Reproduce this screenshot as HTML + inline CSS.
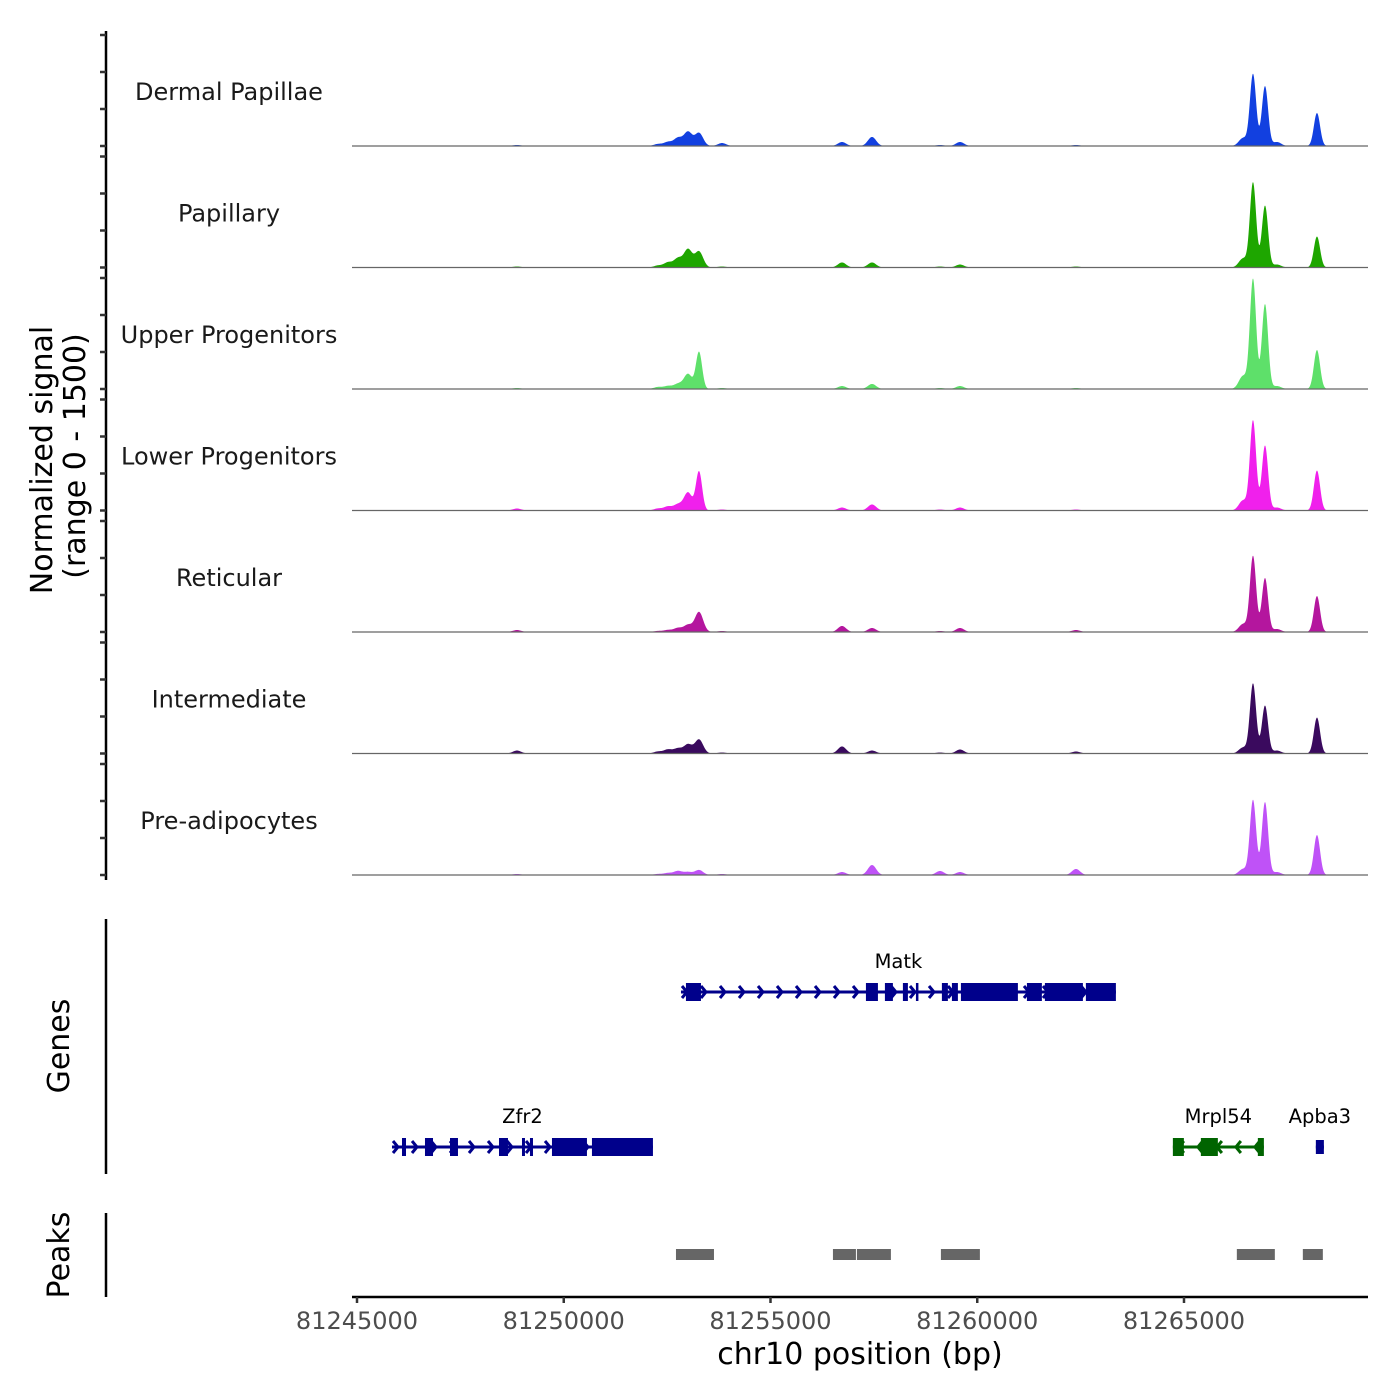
<!DOCTYPE html>
<html><head><meta charset="utf-8"><style>
body{margin:0;background:#fff;}
svg{display:block;font-family:"DejaVu Sans","Liberation Sans",sans-serif;}
</style></head><body>
<svg id="chart" width="1400" height="1400" viewBox="0 0 1400 1400" xmlns="http://www.w3.org/2000/svg">
<g id="tracks"></g>
<g id="genes"></g>
<g id="peaks"></g>
<g id="axes"></g>
<text transform="translate(52,460) rotate(-90)" text-anchor="middle" font-size="30" fill="#000">Normalized signal</text>
<text transform="translate(85,456) rotate(-90)" text-anchor="middle" font-size="30" fill="#000">(range 0 - 1500)</text>
<text transform="translate(69,1046) rotate(-90)" text-anchor="middle" font-size="30" fill="#000">Genes</text>
<text transform="translate(69,1255) rotate(-90)" text-anchor="middle" font-size="30" fill="#000">Peaks</text>
<text x="860" y="1364" text-anchor="middle" font-size="30" fill="#000">chr10 position (bp)</text>
</svg>
<script>
const NS="http://www.w3.org/2000/svg";
const trackNames=["Dermal Papillae","Papillary","Upper Progenitors","Lower Progenitors","Reticular","Intermediate","Pre-adipocytes"];
const trackColors=["#1240e0","#1ea600","#5ee06a","#f020ec","#b4169e","#3a0a5e","#bf52f7"];
const peakPositions=[81248869,81252279,81252521,81252763,81253005,81253271,81253828,81256729,81257455,81259099,81259583,81262388,81266427,81266669,81266959,81267249,81268216];
const sigDermal=[14,27,54,108,189,176,40,54,122,14,54,14,108,972,810,54,446];
const sigPapillary=[14,27,68,122,243,216,14,68,68,14,40,14,122,1148,837,40,419];
const sigUpper=[14,27,40,68,203,500,14,40,68,14,40,14,176,1485,1148,40,527];
const sigLower=[27,27,54,81,243,527,14,40,81,14,40,14,135,1215,878,40,540];
const sigReticular=[27,14,27,54,95,270,14,81,54,14,54,27,108,1026,729,40,486];
const sigIntermediate=[40,27,54,68,122,189,14,95,40,14,54,27,81,945,648,40,486];
const sigPreadipo=[14,14,27,54,40,68,14,40,135,54,40,81,81,1013,986,40,540];
const allSignals=[sigDermal,sigPapillary,sigUpper,sigLower,sigReticular,sigIntermediate,sigPreadipo];
const xTicks=[81245000,81250000,81255000,81260000,81265000];
const geneNames=["Matk","Zfr2","Mrpl54","Apba3"];
const geneStarts=[81252835,81245846,81264731,81268189];
const geneEnds=[81263354,81252157,81266932,81268383];
const geneStrands=["+","+","-","+"];
const geneRows=[0,1,1,1];
const geneExons=[
 [[81252955,81253318],[81257308,81257598],[81257767,81257960],[81258202,81258323],[81258517,81258565],[81259145,81259290],[81259387,81259532],[81259605,81260983],[81261201,81261563],[81261636,81262555],[81262627,81263353]],
 [[81246088,81246185],[81246644,81246838],[81247249,81247442],[81248434,81248651],[81248990,81249062],[81249183,81249256],[81249715,81250561],[81250682,81252157]],
 [[81264731,81264997],[81265408,81265819],[81266786,81266932]],
 [[81268189,81268383]]];
const peakStarts=[81252714,81256510,81257090,81259121,81266278,81267874];
const peakEnds=[81253633,81257066,81257912,81260064,81267197,81268358];

const X0=352,X1=1368,BP0=81244879,BP1=81269450;
const xs=bp=>X0+(bp-BP0)/(BP1-BP0)*(X1-X0);
const trackTop=i=>35+i*121.5, trackH=111;
const ys=(i,v)=>trackTop(i)+trackH-v/1500*trackH;
function el(t,a,p){const e=document.createElementNS(NS,t);for(const k in a)e.setAttribute(k,a[k]);p.appendChild(e);return e;}

const gT=document.getElementById('tracks');
allSignals.forEach((sig,i)=>{
  const base=trackTop(i)+trackH;
  let d=`M${X0},${base}`;
  for(let px=X0;px<=X1;px+=0.5){
    const bp=BP0+(px-X0)/(X1-X0)*(BP1-BP0);
    let v=0;
    peakPositions.forEach((p,k)=>{const s=sig[k]>300?75:100;const z=(bp-p)/s;v+=sig[k]*Math.exp(-0.5*z*z);});
    d+=`L${px},${ys(i,Math.min(v,1500)).toFixed(2)}`;
  }
  d+=`L${X1},${base}Z`;
  const a=el('path',{d,fill:trackColors[i]},gT);
  
  
  const l=el('line',{x1:X0,x2:X1,y1:base,y2:base,stroke:'#666','stroke-width':1.2},gT);
  
  
  const t=el('text',{x:229,y:base-46,'text-anchor':'middle','font-size':24,fill:'#1a1a1a'},gT);
  t.textContent=trackNames[i];
  
  
});

const gG=document.getElementById('genes');
const rowY=[992,1147];
geneNames.forEach((n,g)=>{
  const y=rowY[geneRows[g]], col=geneStrands[g]=="+"?"#00008b":"#006400";
  const x1=xs(geneStarts[g]),x2=xs(geneEnds[g]);
  const ln=el('line',{x1,x2,y1:y,y2:y,stroke:col,'stroke-width':3},gG);
  
  
  for(let cx=x1+6;cx<x2-4;cx+=19){
    const dir=geneStrands[g]=="+"?1:-1;
    const c=el('polyline',{points:`${cx-5*dir},${y-6} ${cx},${y} ${cx-5*dir},${y+6}`,fill:'none',stroke:col,'stroke-width':3},gG);
    
    
  }
  const h=n=="Apba3"?14:18;
  geneExons[g].forEach(e=>{
    const r=el('rect',{x:xs(e[0]),y:y-h/2,width:Math.max(2.5,xs(e[1])-xs(e[0])),height:h,fill:col},gG);
    
    
  });
  const t=el('text',{x:(x1+x2)/2,y:y-24,'text-anchor':'middle','font-size':19.5,fill:'#000'},gG);
  t.textContent=n;
  
  
});

const gP=document.getElementById('peaks');
peakStarts.forEach((s,k)=>{
  const r=el('rect',{x:xs(s),y:1249,width:xs(peakEnds[k])-xs(s),height:11,fill:'#666'},gP);
  
  
});

const gA=document.getElementById('axes');
[[31,880],[919,1174],[1213,1297]].forEach(s=>{
  const l=el('line',{x1:106,x2:106,y1:s[0],y2:s[1],stroke:'#000','stroke-width':2.5},gA);
  
  
});
for(let i=0;i<7;i++){for(let k=0;k<4;k++){
  const y=trackTop(i)+k*trackH/3;
  const t=el('line',{x1:100,x2:106,y1:y,y2:y,stroke:'#333','stroke-width':2.5},gA);
  
  
}}
const ax=el('line',{x1:X0,x2:X1,y1:1297,y2:1297,stroke:'#000','stroke-width':2.5},gA);


xTicks.forEach(v=>{
  const x=xs(v);
  const t=el('line',{x1:x,x2:x,y1:1297,y2:1303,stroke:'#333','stroke-width':2.5},gA);
  
  
  const tx=el('text',{x,y:1329,'text-anchor':'middle','font-size':24,fill:'#4d4d4d'},gA);
  tx.textContent=v;
  
  
});
</script>
</body></html>
